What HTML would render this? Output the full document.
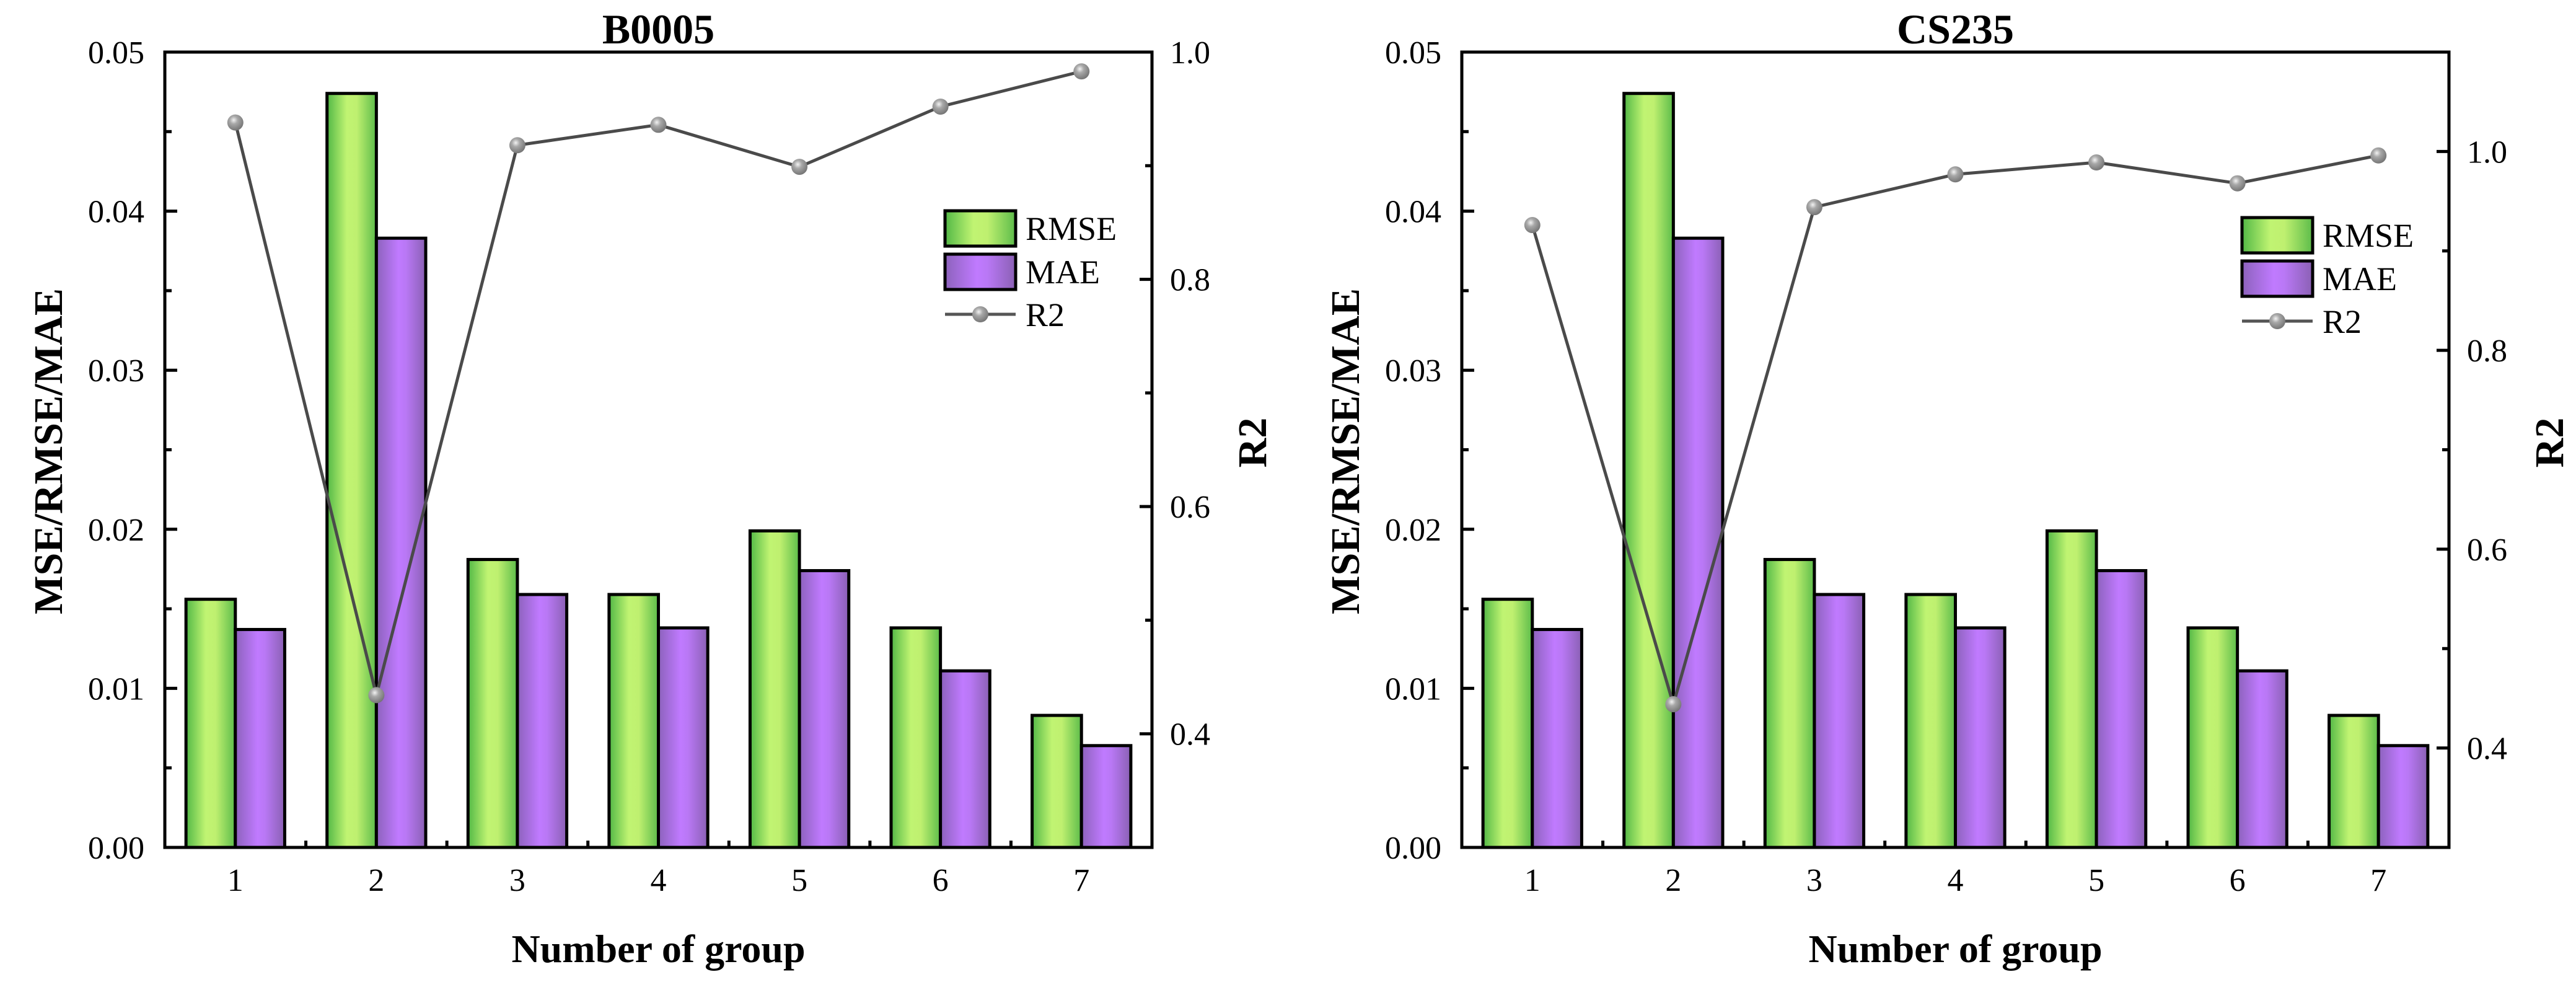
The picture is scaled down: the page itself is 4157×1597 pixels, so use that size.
<!DOCTYPE html>
<html><head><meta charset="utf-8"><style>
html,body{margin:0;padding:0;background:#fff;}
svg{display:block;font-family:"Liberation Serif",serif;}
</style></head><body>
<svg id="chart" width="4157" height="1597" viewBox="0 0 4157 1597" xmlns="http://www.w3.org/2000/svg">
<defs>
<linearGradient id="gGreen" x1="0" x2="1" y1="0" y2="0">
<stop offset="0" stop-color="#52b846"/><stop offset="0.4" stop-color="#c0f472"/><stop offset="0.6" stop-color="#bff070"/><stop offset="1" stop-color="#5cbc4a"/></linearGradient>
<linearGradient id="gPurple" x1="0" x2="1" y1="0" y2="0">
<stop offset="0" stop-color="#8c62bc"/><stop offset="0.45" stop-color="#c07aff"/><stop offset="0.6" stop-color="#b978f5"/><stop offset="1" stop-color="#8a60b4"/></linearGradient>
<radialGradient id="gBall" cx="0.4" cy="0.35" r="0.7">
<stop offset="0" stop-color="#f2f2f2"/><stop offset="0.35" stop-color="#a8a8a8"/><stop offset="1" stop-color="#707070"/></radialGradient>
</defs>
</svg>
<script>
const categories = [1,2,3,4,5,6,7];
const rmseB = [0.0156,0.0474,0.0181,0.0159,0.0199,0.0138,0.0083];
const maeB = [0.0137,0.0383,0.0159,0.0138,0.0174,0.0111,0.0064];
const r2B = [0.938,0.434,0.918,0.936,0.899,0.952,0.983];
const rmseC = [0.0156,0.0474,0.0181,0.0159,0.0199,0.0138,0.0083];
const maeC = [0.0137,0.0383,0.0159,0.0138,0.0174,0.0111,0.0064];
const r2C = [0.926,0.444,0.944,0.977,0.989,0.968,0.996];
const leftTicks = ["0.00","0.01","0.02","0.03","0.04","0.05"];
const rightTicksB = ["0.4","0.6","0.8","1.0"];
const rightTicksC = ["0.4","0.6","0.8","1.0"];

const NS="http://www.w3.org/2000/svg";
const svg=document.getElementById('chart');
function mk(tag,attrs,parent){const e=document.createElementNS(NS,tag);for(const k in attrs)e.setAttribute(k,attrs[k]);(parent||svg).appendChild(e);return e;}

function panel(cfg){
  const L=cfg.left,R=cfg.left+1593,T=84,B=1367;
  const g=mk('g',{});
  
  
  const xs=c=>L+(c-0.5)*(R-L)/7;
  const yl=v=>B-(v/0.05)*(B-T);
  const yr=v=>B-((v-cfg.rmin)/(cfg.rmax-cfg.rmin))*(B-T);
  const bw=(R-L)/7*0.35;
  categories.forEach((c,i)=>{
    const cx=xs(c);
    const b1=mk('rect',{x:cx-bw,y:yl(cfg.rmse[i]),width:bw,height:B-yl(cfg.rmse[i]),fill:'url(#gGreen)',stroke:'#000','stroke-width':5},g);
    
    
    const b2=mk('rect',{x:cx,y:yl(cfg.mae[i]),width:bw,height:B-yl(cfg.mae[i]),fill:'url(#gPurple)',stroke:'#000','stroke-width':5},g);
    
    
  });
  const fr=mk('rect',{x:L,y:T,width:R-L,height:B-T,fill:'none',stroke:'#000','stroke-width':5},g);
  
  
  for(let k=0;k<=10;k++){
    const v=k*0.005,y=yl(v);
    mk('line',{x1:L,x2:L+(k%2?11:20),y1:y,y2:y,stroke:'#000','stroke-width':5},g);
  }
  leftTicks.forEach(t=>{
    const tx=mk('text',{x:L-33,y:yl(parseFloat(t))+18,'text-anchor':'end','font-size':52},g);
    tx.textContent=t;
    
    
  });
  for(let v=cfg.rmin+0.1;v<cfg.rmax-0.001;v+=0.1){
    const y=yr(v);const major=Math.abs(Math.round(v*10)%2)===0;
    mk('line',{x1:R,x2:R-(major?20:11),y1:y,y2:y,stroke:'#000','stroke-width':5},g);
  }
  cfg.rticks.forEach(t=>{
    const tx=mk('text',{x:R+29,y:yr(parseFloat(t))+18,'font-size':52},g);
    tx.textContent=t;
    
    
  });
  categories.forEach(c=>{
    const tx=mk('text',{x:xs(c),y:1437,'text-anchor':'middle','font-size':52},g);
    tx.textContent=String(c);
    
    
    if(c<7) mk('line',{x1:xs(c+0.5),x2:xs(c+0.5),y1:B,y2:B-11,stroke:'#000','stroke-width':5},g);
  });
  const pts=categories.map((c,i)=>xs(c)+','+yr(cfg.r2[i])).join(' ');
  const pl=mk('polyline',{points:pts,fill:'none',stroke:'#4a4a4a','stroke-width':5},g);
  
  
  categories.forEach((c,i)=>{
    const p=mk('circle',{cx:xs(c),cy:yr(cfg.r2[i]),r:13,fill:'url(#gBall)'},g);
    
    
  });
  const ti=mk('text',{x:(L+R)/2,y:70,'text-anchor':'middle','font-size':68,'font-weight':'bold'},g);
  ti.textContent=cfg.title;
  
  
  const xt=mk('text',{x:(L+R)/2,y:1552,'text-anchor':'middle','font-size':64,'font-weight':'bold'},g);
  xt.textContent='Number of group';
  
  
  const yt=mk('text',{x:0,y:0,'text-anchor':'middle','font-size':66,'font-weight':'bold',textLength:526,lengthAdjust:'spacingAndGlyphs',transform:`translate(${L-166},728) rotate(-90)`},g);
  yt.textContent='MSE/RMSE/MAE';
  
  
  const rt=mk('text',{x:0,y:0,'text-anchor':'middle','font-size':66,'font-weight':'bold',transform:`translate(${R+184},714) rotate(-90)`},g);
  rt.textContent='R2';
  
  
  const lx=L+1259, ly=cfg.ly;
  const lg=mk('g',{},g);
  
  
  mk('rect',{x:lx,y:ly,width:114,height:57,fill:'url(#gGreen)',stroke:'#000','stroke-width':5},lg);
  mk('rect',{x:lx,y:ly+70,width:114,height:57,fill:'url(#gPurple)',stroke:'#000','stroke-width':5},lg);
  mk('line',{x1:lx,x2:lx+114,y1:ly+167,y2:ly+167,stroke:'#555','stroke-width':5},lg);
  mk('circle',{cx:lx+57,cy:ly+167,r:13,fill:'url(#gBall)'},lg);
  [['RMSE',ly+47],['MAE',ly+117],['R2',ly+186]].forEach(([t,y])=>{
    const tx=mk('text',{x:lx+130,y:y,'font-size':54},lg);
    tx.textContent=t;
    
    
  });
}
panel({name:'b0005-panel',left:266,title:'B0005',rmse:rmseB,mae:maeB,r2:r2B,rmin:0.3,rmax:1.0,rticks:rightTicksB,ly:340});
panel({name:'cs235-panel',left:2359,title:'CS235',rmse:rmseC,mae:maeC,r2:r2C,rmin:0.3,rmax:1.1,rticks:rightTicksC,ly:351});
</script>
</body></html>
